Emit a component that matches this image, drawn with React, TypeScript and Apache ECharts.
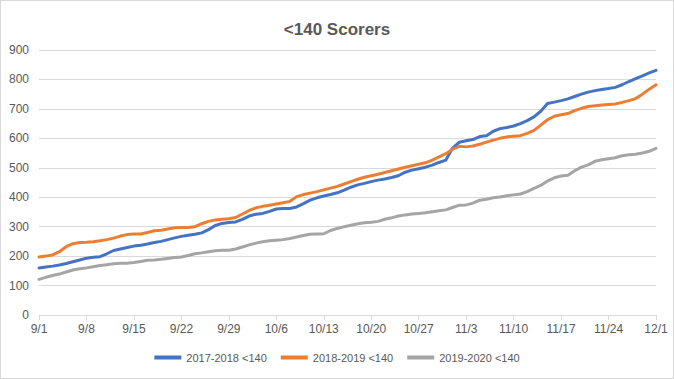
import React, { useEffect, useRef } from "react";
import * as echarts from "echarts";

const title = "<140 Scorers";
const seriesNames = ["2017-2018 <140", "2018-2019 <140", "2019-2020 <140"];
const seriesColors = ["#4472C4", "#ED7D31", "#A5A5A5"];

// daily categories 9/1 .. 12/1
const monthDays: [number, number][] = [[9, 30], [10, 31], [11, 30], [12, 1]];
const categories: string[] = [];
for (const [m, n] of monthDays) for (let d = 1; d <= n; d++) categories.push(`${m}/${d}`);

const s2017 = [
  160, 163, 166, 170, 175, 181, 187, 193, 196, 198, 208, 219, 224, 229, 234, 237, 241, 246, 250, 256,
  262, 267, 271, 274, 279, 290, 304, 311, 314, 316, 325, 336, 342, 345, 352, 360, 362, 362, 367, 378,
  390, 398, 404, 409, 415, 424, 434, 442, 447, 453, 458, 462, 467, 473, 485, 492, 497, 502, 509, 518,
  526, 567, 587, 592, 596, 606, 609, 624, 633, 637, 642, 650, 660, 673, 692, 718, 723, 728, 734, 742,
  750, 757, 762, 766, 769, 773, 782, 793, 803, 812, 822, 831,
];
const s2018 = [
  197, 200, 204, 215, 232, 242, 246, 247, 249, 252, 256, 261, 268, 273, 275, 275, 280, 286, 288, 292,
  296, 297, 297, 300, 310, 318, 323, 325, 327, 331, 343, 355, 364, 369, 373, 377, 381, 386, 402, 409,
  414, 419, 425, 431, 437, 445, 453, 461, 468, 473, 478, 484, 490, 496, 502, 507, 512, 517, 526, 537,
  548, 563, 573, 571, 574, 580, 587, 594, 600, 605, 607, 609, 617, 627, 645, 663, 675, 680, 684, 694,
  702, 708, 711, 713, 715, 717, 722, 728, 735, 750, 767, 782,
];
const s2019 = [
  121, 128, 134, 139, 146, 153, 157, 160, 164, 168, 171, 174, 176, 176, 178, 182, 186, 187, 189, 192,
  195, 197, 202, 208, 211, 215, 218, 220, 220, 224, 231, 238, 244, 249, 252, 254, 256, 260, 265, 270,
  274, 275, 276, 287, 294, 300, 305, 310, 313, 315, 318, 325, 330, 336, 340, 343, 345, 347, 351, 354,
  357, 365, 373, 374, 380, 390, 393, 398, 401, 405, 408, 411, 419, 430, 440, 455, 466, 472, 475, 490,
  502, 510, 522, 527, 531, 534, 541, 544, 546, 550, 556, 566,
];
const seriesData = [s2017, s2018, s2019];

const yMin = 0;
const yMax = 900;
const yInterval = 100;

const FONT = "'Liberation Sans', Arial, sans-serif";
const TEXT = "#595959";

export default function App() {
  const ref = useRef<HTMLDivElement>(null);
  useEffect(() => {
    document.body.style.margin = "0";
    if (!ref.current) return;
    const chart = echarts.init(ref.current, undefined, { renderer: "svg" });
    chart.setOption({
      animation: false,
      backgroundColor: "#ffffff",
      title: {
        text: title,
        left: "center",
        top: 15,
        textStyle: { color: TEXT, fontSize: 17, fontWeight: "bold", fontFamily: FONT },
      },
      grid: { left: 38, right: 17, top: 49, bottom: 63, containLabel: false },
      legend: {
        bottom: 10,
        left: "center",
        itemWidth: 27,
        itemHeight: 4,
        itemGap: 14,
        icon: "rect",
        textStyle: { color: TEXT, fontSize: 11, fontFamily: FONT },
        data: seriesNames,
      },
      xAxis: {
        type: "category",
        data: categories,
        boundaryGap: false,
        axisLine: { lineStyle: { color: "#D9D9D9", width: 1 } },
        axisTick: { show: true, interval: 6, length: 5, lineStyle: { color: "#D9D9D9" } },
        axisLabel: { interval: 6, color: TEXT, fontSize: 12, fontFamily: FONT, margin: 8 },
        splitLine: { show: false },
      },
      yAxis: {
        type: "value",
        min: yMin,
        max: yMax,
        interval: yInterval,
        axisLine: { show: false },
        axisTick: { show: false },
        axisLabel: { color: TEXT, fontSize: 12, fontFamily: FONT, margin: 10 },
        splitLine: { lineStyle: { color: "#D9D9D9", width: 1 } },
      },
      series: seriesNames.map((name, i) => ({
        name,
        type: "line",
        data: seriesData[i],
        showSymbol: false,
        symbol: "none",
        smooth: false,
        lineStyle: { color: seriesColors[i], width: 3, cap: "round", join: "round" },
        itemStyle: { color: seriesColors[i] },
      })),
    });
    return () => chart.dispose();
  }, []);
  return (
    <div
      style={{
        width: 674,
        height: 379,
        boxSizing: "border-box",
        border: "1px solid #D9D9D9",
        background: "#fff",
      }}
    >
      <div ref={ref} style={{ width: 672, height: 377 }} />
    </div>
  );
}
